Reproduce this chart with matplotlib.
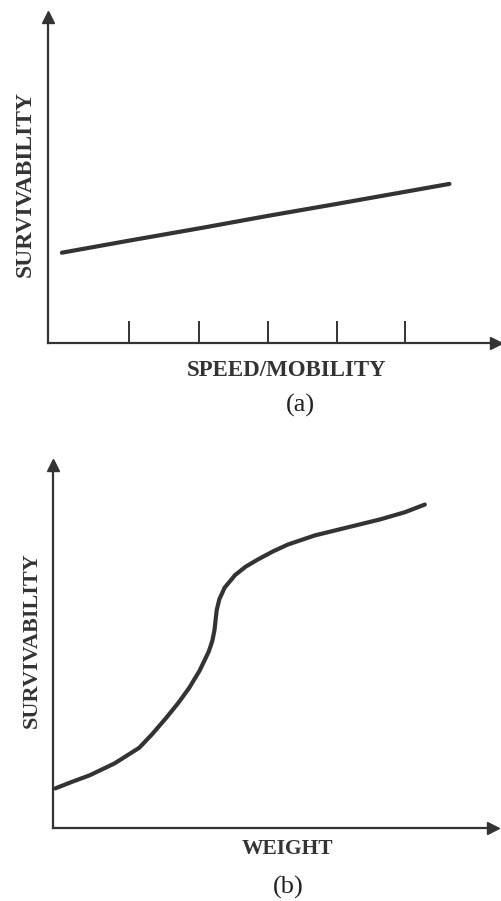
import matplotlib
matplotlib.use("Agg")
import matplotlib.pyplot as plt

# ----------------------------
# Data (arbitrary 0-10 units)
# ----------------------------

speed = [0.31, 1.81, 3.47, 4.91, 6.46, 8.96]
surv_speed = [2.77, 3.14, 3.54, 3.90, 4.27, 4.88]
speed_ticks = [1.81, 3.36, 4.91, 6.46, 7.96]

weight = [0.05, 0.45, 0.83, 1.40, 1.96, 2.25, 2.57, 2.85, 3.09, 3.33,
          3.54, 3.62, 3.67, 3.72, 3.78, 3.90, 4.14, 4.38, 4.66, 5.00,
          5.34, 5.95, 6.69, 7.43, 8.00, 8.45]
surv_weight = [1.09, 1.28, 1.45, 1.78, 2.21, 2.58, 3.03, 3.45, 3.85, 4.33,
               4.86, 5.15, 5.45, 6.00, 6.30, 6.62, 6.97, 7.20, 7.40, 7.62,
               7.81, 8.06, 8.28, 8.50, 8.70, 8.91]

ylabel = "SURVIVABILITY"
xlabels = ["SPEED/MOBILITY", "WEIGHT"]
captions = ["(a)", "(b)"]

ink = "#333333"
W, H = 501, 901

plt.rcParams["font.family"] = ["Liberation Serif", "DejaVu Serif"]

fig = plt.figure(figsize=(W / 100, H / 100), dpi=100)
fig.patch.set_facecolor("white")


def px_axes(left, top, right, bottom):
    return fig.add_axes([left / W, 1 - bottom / H, (right - left) / W, (bottom - top) / H])


def style(ax):
    for s in ["top", "right"]:
        ax.spines[s].set_visible(False)
    for s in ["left", "bottom"]:
        ax.spines[s].set_color(ink)
        ax.spines[s].set_linewidth(1.6)
    ax.set_xlim(0, 10)
    ax.set_ylim(0, 10)
    ax.set_yticks([])
    # arrow heads
    ax.plot(0, 1, marker="^", markersize=8, color=ink, transform=ax.transAxes, clip_on=False)
    ax.plot(1, 0, marker=">", markersize=8, color=ink, transform=ax.transAxes, clip_on=False)


# ----------------------------
# (a) survivability vs speed
# ----------------------------

ax1 = px_axes(48, 17, 496, 343)
style(ax1)
ax1.plot(speed, surv_speed, color=ink, linewidth=3, solid_capstyle="round")
ax1.set_xticks(speed_ticks)
ax1.set_xticklabels([])
ax1.tick_params(axis="x", direction="in", length=16, width=1.4, color=ink)

fig.text(25 / W, 1 - 184 / H, ylabel, rotation=90, ha="center", va="center",
         fontsize=17, fontweight="bold", color=ink)
fig.text(287 / W, 1 - 370 / H, xlabels[0], ha="center", va="center",
         fontsize=16.5, fontweight="bold", color=ink)
fig.text(300 / W, 1 - 405 / H, captions[0], ha="center", va="center",
         fontsize=19, color="#222222")

# ----------------------------
# (b) survivability vs weight
# ----------------------------

ax2 = px_axes(53, 465, 493, 828)
style(ax2)
ax2.set_xticks([])
ax2.plot(weight, surv_weight, color=ink, linewidth=3,
         solid_capstyle="round", solid_joinstyle="round")

fig.text(32 / W, 1 - 640 / H, ylabel, rotation=90, ha="center", va="center",
         fontsize=16, fontweight="bold", color=ink)
fig.text(288 / W, 1 - 849 / H, xlabels[1], ha="center", va="center",
         fontsize=15.5, fontweight="bold", color=ink)
fig.text(288 / W, 1 - 887 / H, captions[1], ha="center", va="center",
         fontsize=19, color="#222222")

plt.savefig("out.png", dpi=100)
